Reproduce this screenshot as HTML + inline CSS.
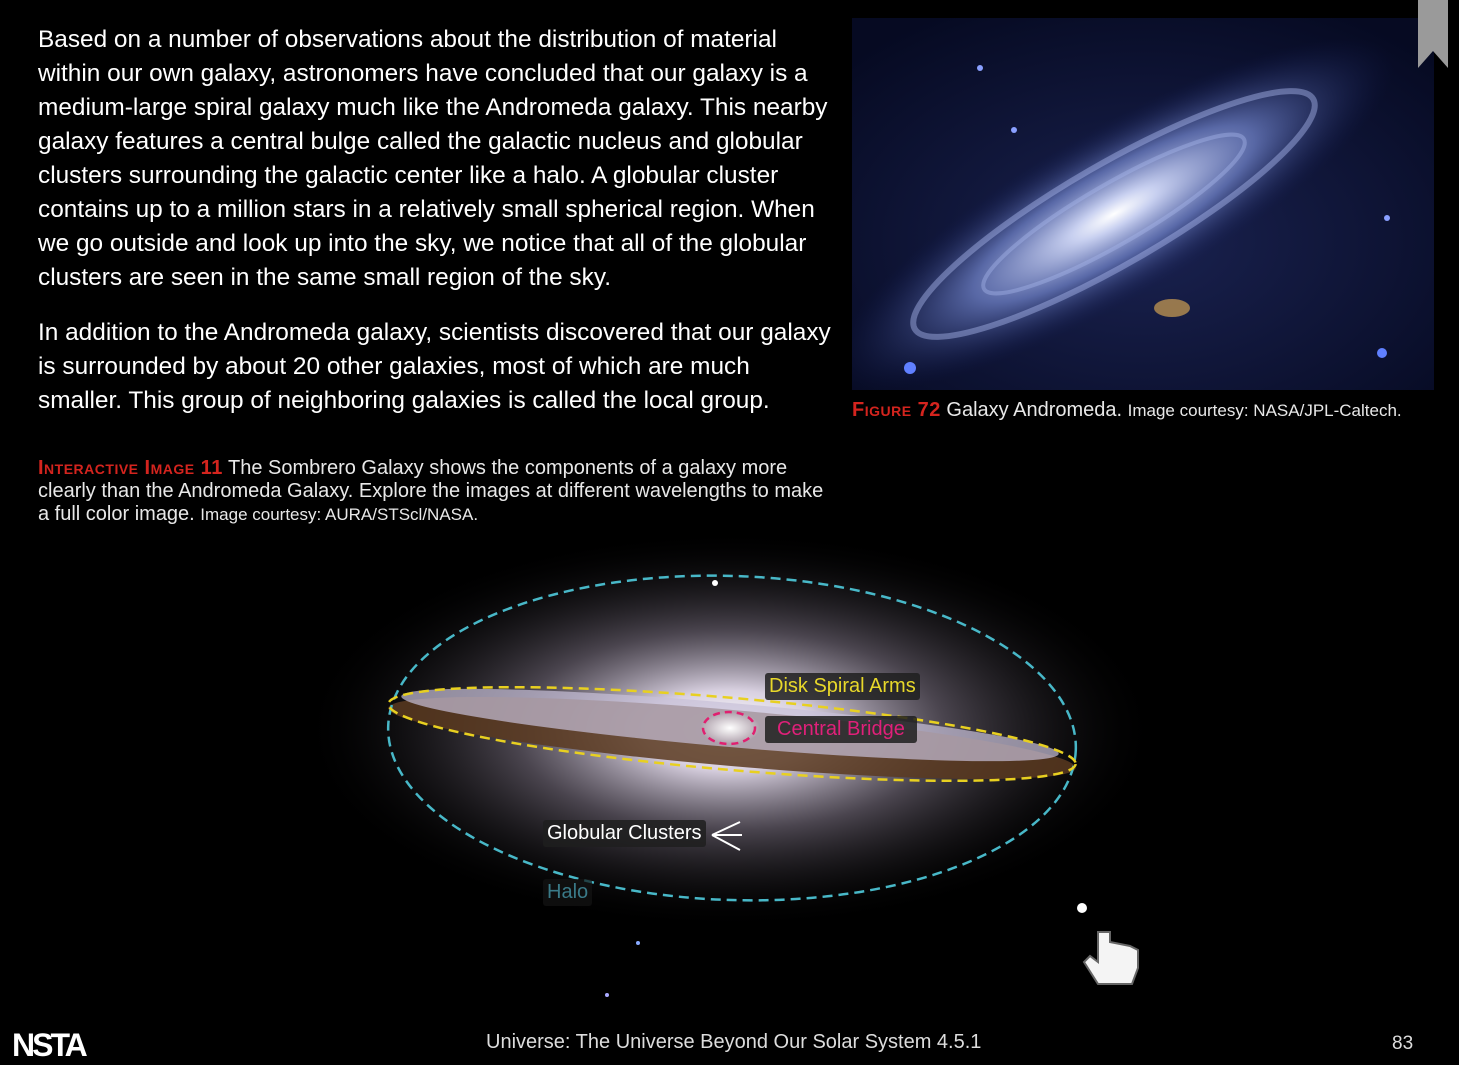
<!DOCTYPE html>
<html><head><meta charset="utf-8"><style>
html,body{margin:0;padding:0;background:#000;}
body{width:1459px;height:1065px;position:relative;overflow:hidden;font-family:"Liberation Sans",sans-serif;color:#fff;}
.p{position:absolute;left:38px;font-size:24.4px;line-height:34px;margin:0;color:#fff;white-space:nowrap;}
.cap{position:absolute;font-size:20px;line-height:23px;color:#e8e8e8;white-space:nowrap;}
.red{color:#d4241e;font-variant:small-caps;font-weight:bold;letter-spacing:0.5px;}
.lbl{position:absolute;background:rgba(30,30,30,0.85);border-radius:3px;font-size:20px;line-height:27px;padding:0 4px;}
</style></head><body>
<p class="p" style="top:23px">Based on a number of observations about the distribution of material<br>within our own galaxy, astronomers have concluded that our galaxy is a<br>medium-large spiral galaxy much like the Andromeda galaxy. This nearby<br>galaxy features a central bulge called the galactic nucleus and globular<br>clusters surrounding the galactic center like a halo. A globular cluster<br>contains up to a million stars in a relatively small spherical region. When<br>we go outside and look up into the sky, we notice that all of the globular<br>clusters are seen in the same small region of the sky.</p>
<p class="p" style="top:316px">In addition to the Andromeda galaxy, scientists discovered that our galaxy<br>is surrounded by about 20 other galaxies, most of which are much<br>smaller. This group of neighboring galaxies is called the local group.</p>

<svg style="position:absolute;left:852px;top:18px" width="582" height="372">
<defs><radialGradient id="ag" cx="50%" cy="50%" r="50%"><stop offset="0" stop-color="#fff"/><stop offset="0.15" stop-color="#c8d0f0"/><stop offset="0.5" stop-color="#6a7cc0" stop-opacity="0.8"/><stop offset="1" stop-color="#101a50" stop-opacity="0"/></radialGradient>
<radialGradient id="bg" cx="50%" cy="60%" r="70%"><stop offset="0" stop-color="#1a2250"/><stop offset="1" stop-color="#060a22"/></radialGradient></defs>
<rect width="582" height="372" fill="url(#bg)"/>
<ellipse cx="262" cy="196" rx="320" ry="85" fill="url(#ag)" transform="rotate(-30 262 196)"/>
<ellipse cx="262" cy="196" rx="230" ry="50" fill="none" stroke="#aab8ee" stroke-width="6" opacity="0.45" transform="rotate(-30 262 196)"/>
<ellipse cx="262" cy="196" rx="150" ry="30" fill="none" stroke="#aab8ee" stroke-width="4" opacity="0.4" transform="rotate(-30 262 196)"/>
<ellipse cx="320" cy="290" rx="18" ry="9" fill="#b89050" opacity="0.8"/>
<circle cx="58" cy="350" r="6" fill="#6080ff"/><circle cx="530" cy="335" r="5" fill="#6080ff"/><circle cx="535" cy="200" r="3" fill="#8aa0ff"/><circle cx="162" cy="112" r="3" fill="#8aa0ff"/><circle cx="128" cy="50" r="3" fill="#8aa0ff"/>
</svg>
<div style="position:absolute;left:1418px;top:0;width:30px;height:68px;background:#9a9a9a;clip-path:polygon(0 0,100% 0,100% 100%,50% 75%,0 100%)"></div>
<div class="cap" style="left:852px;top:399px"><span class="red">Figure 72</span> Galaxy Andromeda. <span style="font-size:17px">Image courtesy: NASA/JPL-Caltech.</span></div>
<div class="cap" style="left:38px;top:457px"><span class="red">Interactive Image 11</span> The Sombrero Galaxy shows the components of a galaxy more<br>clearly than the Andromeda Galaxy. Explore the images at different wavelengths to make<br>a full color image. <span style="font-size:17px">Image courtesy: AURA/STScl/NASA.</span></div>

<svg style="position:absolute;left:0;top:530px" width="1459" height="480">
<defs><radialGradient id="sg" cx="50%" cy="50%" r="50%"><stop offset="0" stop-color="#fff"/><stop offset="0.2" stop-color="#d8d0e0"/><stop offset="0.5" stop-color="#6a6270" stop-opacity="0.7"/><stop offset="1" stop-color="#000" stop-opacity="0"/></radialGradient>
<radialGradient id="cg" cx="50%" cy="50%" r="50%"><stop offset="0" stop-color="#fff"/><stop offset="1" stop-color="#fff" stop-opacity="0"/></radialGradient></defs>
<ellipse cx="730" cy="200" rx="430" ry="200" fill="url(#sg)"/>
<ellipse cx="732" cy="208" rx="345" ry="28" fill="#5a3a20" opacity="0.85" transform="rotate(5 732 208)"/>
<ellipse cx="730" cy="195" rx="330" ry="22" fill="#c8c0d8" opacity="0.7" transform="rotate(5 730 195)"/>
<ellipse cx="730" cy="198" rx="30" ry="16" fill="url(#cg)"/>
<ellipse cx="732" cy="208" rx="344" ry="162" fill="none" stroke="#48b8c8" stroke-width="2.5" stroke-dasharray="10 6" transform="rotate(2 732 208)"/>
<ellipse cx="732" cy="204" rx="345" ry="36" fill="none" stroke="#e8d020" stroke-width="2.5" stroke-dasharray="10 6" transform="rotate(5 732 204)"/>
<ellipse cx="729" cy="198" rx="26" ry="16" fill="none" stroke="#e02070" stroke-width="2.5" stroke-dasharray="7 5"/>
<g stroke="#fff" stroke-width="2" fill="none"><path d="M712 305 L740 292 M712 305 L742 305 M712 305 L740 320"/></g>
<circle cx="1082" cy="378" r="5" fill="#fff"/><circle cx="715" cy="53" r="3" fill="#fff"/><circle cx="638" cy="413" r="2" fill="#8af"/><circle cx="607" cy="465" r="2" fill="#aaf"/>
<path d="M1098 402 l0 30 l-8 -6 l-6 6 l14 22 l34 0 l6 -16 l0 -18 l-8 -4 l-10 -2 l-10 -2 l0 -10 z" fill="#f4f4f4" stroke="#666" stroke-width="2"/>
</svg>
<div class="lbl" style="left:765px;top:673px;color:#e8d82a">Disk Spiral Arms</div>
<div class="lbl" style="left:765px;top:716px;color:#e0207a;padding:0 12px">Central Bridge</div>
<div class="lbl" style="left:543px;top:820px;color:#fff">Globular Clusters</div>
<div class="lbl" style="left:543px;top:879px;color:#3a7a88;background:rgba(20,20,20,0.7)">Halo</div>

<div style="position:absolute;left:12px;top:1027px;font-size:32px;font-weight:bold;letter-spacing:-3px;color:#fff">NSTA</div>
<div style="position:absolute;left:486px;top:1031px;font-size:20px;color:#ddd">Universe: The Universe Beyond Our Solar System 4.5.1</div>
<div style="position:absolute;left:1392px;top:1033px;font-size:19px;color:#ddd">83</div>
</body></html>
